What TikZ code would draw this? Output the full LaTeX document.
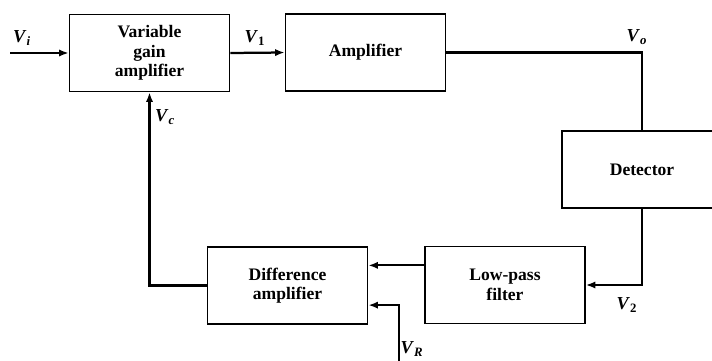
\documentclass[tikz,border=0pt]{standalone}
\usepackage{fontspec}
\setmainfont{Liberation Serif}
\usetikzlibrary{arrows.meta, positioning, calc}

% signal labels: bold italic V with a subscript
\newcommand{\vsig}[1]{\textbf{\textit{V}}\textsubscript{\textbf{#1}}}

\begin{document}
\begin{tikzpicture}[
  x=0.25mm, y=-0.25mm,
  >={Latex[length=2.4mm, width=1.8mm]},
  block/.style={draw, line width=1.1pt, minimum width=40mm, minimum height=19.25mm,
    align=center, font=\bfseries\fontsize{12.5}{13.8}\selectfont},
  wire/.style={line width=1.6pt},
  lbl/.style={font=\fontsize{13}{15}\selectfont},
]

% Page
\useasboundingbox (0,0) rectangle (712,361);
\clip (0,0) rectangle (712,361);

% =============================================
% Blocks
% =============================================

\node[block] (vga)  at (149.5,53)  {Variable\\gain\\amplifier};
\node[block] (amp)  at (365.5,52.5) {Amplifier};
\node[block] (det)  at (642,169.5) {Detector};
\node[block] (lpf)  at (505,285)   {Low-pass\\filter};
\node[block] (diff) at (287.5,285.5) {Difference\\amplifier};

% =============================================
% Signal paths
% =============================================

\coordinate (vin) at (10,53);
\coordinate (vref) at (399,361);
\coordinate (lpfout) at ($(lpf.north west)!0.25!(lpf.south west)$);
\coordinate (diffin) at ($(diff.north east)!0.75!(diff.south east)$);

% forward path
\draw[wire, ->] (vin) -- (vga.west);
\draw[wire, ->] (vga.east) -- (amp.west);
\draw[wire] (amp.east) -| (det.north);
\draw[wire, ->] (det.south) |- (lpf.east);

% feedback path
\draw[wire, ->] (lpfout) -- (lpfout -| diff.east);
\draw[wire, ->] (vref) |- (diffin);
\draw[wire, ->] (diff.west) -| (vga.south);

% =============================================
% Labels
% =============================================

\node[lbl] (li) at (22,38)   {\vsig{\textit{i}}};
\node[lbl] (l1) at (255,38)  {\vsig{1}};
\node[lbl] (lo) at (637,37)  {\vsig{\textit{o}}};
\node[lbl] (lc) at (165,117) {\vsig{\textit{c}}};
\node[lbl] (l2) at (627,305) {\vsig{2}};
\node[lbl] (lr) at (412,349) {\vsig{\textit{R}}};

\end{tikzpicture}
\end{document}
